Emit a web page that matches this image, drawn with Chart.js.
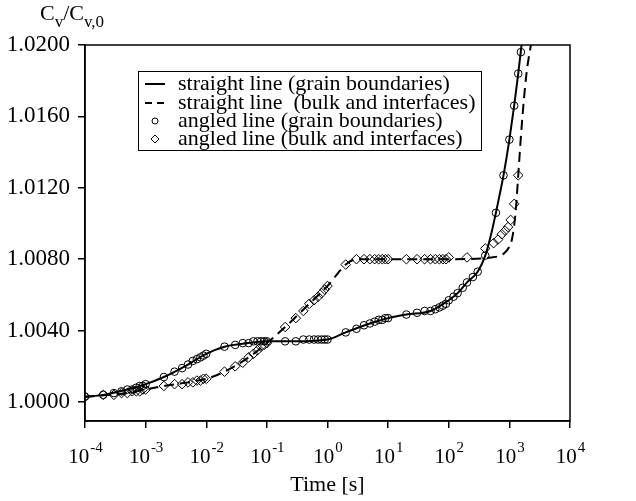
<!DOCTYPE html>
<html>
<head>
<meta charset="utf-8">
<script src="https://cdn.jsdelivr.net/npm/chart.js@4/dist/chart.umd.min.js"></script>
<style>
  html, body { margin: 0; padding: 0; background: #fff; }
  #wrap { width: 636px; height: 501px; }
</style>
</head>
<body>
<div id="wrap"><canvas id="chart" width="636" height="501"></canvas></div>
<script>
// axis ticks
const xTicks = [1e-4, 1e-3, 1e-2, 1e-1, 1, 10, 100, 1000, 10000];
const xTickExp = ['-4', '-3', '-2', '-1', '0', '1', '2', '3', '4'];
const yTicks = [1.0000, 1.0040, 1.0080, 1.0120, 1.0160, 1.0200];

// straight line (grain boundaries) - solid curve
const straightGbTime = [1e-4, 2e-4, 5e-4, 1e-3, 2e-3, 5e-3, 1e-2, 2e-2, 5e-2, 1e-1, 3e-1, 1, 2, 5, 10, 20, 50, 100, 150, 200, 300, 400, 500, 600, 700, 800, 900, 1000, 1200, 1400, 1600];
const straightGbCv = [1.0003, 1.0004, 1.0007, 1.0010, 1.0014, 1.0021, 1.0027, 1.0031, 1.0033, 1.0034, 1.0034, 1.0035, 1.0039, 1.0044, 1.0047, 1.0049, 1.0051, 1.0057, 1.0062, 1.0067, 1.0073, 1.0082, 1.0094, 1.0106, 1.0117, 1.0127, 1.0137, 1.0147, 1.0166, 1.0184, 1.0201];

// straight line (bulk and interfaces) - dashed curve
const straightBulkTime = [1e-4, 5e-4, 1e-3, 2e-3, 5e-3, 1e-2, 2e-2, 5e-2, 1e-1, 2e-1, 5e-1, 1, 2, 3, 5, 100, 500, 800, 1000, 1100, 1200, 1300, 1400, 1600, 1900, 2400];
const straightBulkCv = [1.0003, 1.0005, 1.0007, 1.0009, 1.0011, 1.0013, 1.0017, 1.0025, 1.0033, 1.0042, 1.0055, 1.0065, 1.0077, 1.0080, 1.0080, 1.0080, 1.0081, 1.0083, 1.0087, 1.0091, 1.0099, 1.0111, 1.0127, 1.0155, 1.0183, 1.0205];

// angled line (grain boundaries) - circles
const angledGbTime = [
  1e-4, 2e-4, 3e-4, 4e-4, 5e-4, 6e-4, 7e-4, 8e-4, 9e-4,
  1e-3, 2e-3, 3e-3, 4e-3, 5e-3, 6e-3, 7e-3, 8e-3, 9e-3,
  1e-2, 2e-2, 3e-2, 4e-2, 5e-2, 6e-2, 7e-2, 8e-2, 9e-2,
  0.1, 0.2, 0.3, 0.4, 0.5, 0.6, 0.7, 0.8, 0.9,
  1, 2, 3, 4, 5, 6, 7, 8, 9,
  10, 20, 30, 40, 50, 60, 70, 80, 90,
  100, 120, 140, 170, 200, 250, 300, 400, 600, 800, 1000, 1200, 1400, 1550
];
const angledGbCv = [
  1.0003, 1.0004, 1.0005, 1.0006, 1.0007, 1.0007, 1.0008, 1.0009, 1.0009,
  1.0010, 1.0014, 1.0017, 1.0019, 1.0021, 1.0023, 1.0024, 1.0025, 1.0026,
  1.0027, 1.0031, 1.0032, 1.0033, 1.0033, 1.0034, 1.0034, 1.0034, 1.0034,
  1.0034, 1.0034, 1.0034, 1.0035, 1.0035, 1.0035, 1.0035, 1.0035, 1.0035,
  1.0035, 1.0039, 1.0041, 1.0043, 1.0044, 1.0045, 1.0046, 1.0046, 1.0047,
  1.0047, 1.0049, 1.0050, 1.0051, 1.0051, 1.0052, 1.0053, 1.0054, 1.0055,
  1.0057, 1.0059, 1.0061, 1.0064, 1.0067, 1.0070, 1.0073, 1.0082, 1.0106, 1.0127, 1.0147, 1.0166, 1.0184, 1.0196
];

// angled line (bulk and interfaces) - diamonds
const angledBulkTime = [
  1e-4, 2e-4, 3e-4, 4e-4, 5e-4, 6e-4, 7e-4, 8e-4, 9e-4,
  1e-3, 2e-3, 3e-3, 4e-3, 5e-3, 6e-3, 7e-3, 8e-3, 9e-3,
  1e-2, 2e-2, 3e-2, 4e-2, 5e-2, 6e-2, 7e-2, 8e-2, 9e-2,
  0.1, 0.2, 0.3, 0.4, 0.5, 0.6, 0.7, 0.8, 0.9,
  1, 2, 3, 4, 5, 6, 7, 8, 9,
  10, 20, 30, 40, 50, 60, 70, 80, 90,
  100, 200, 400, 550, 650, 750, 850, 950, 1050, 1200, 1400
];
const angledBulkCv = [
  1.0003, 1.0004, 1.0004, 1.0005, 1.0005, 1.0006, 1.0006, 1.0006, 1.0007,
  1.0007, 1.0009, 1.0010, 1.0010, 1.0011, 1.0011, 1.0012, 1.0012, 1.0013,
  1.0013, 1.0017, 1.0020, 1.0022, 1.0025, 1.0027, 1.0029, 1.0031, 1.0032,
  1.0033, 1.0042, 1.0047, 1.0051, 1.0055, 1.0057, 1.0059, 1.0061, 1.0063,
  1.0065, 1.0077, 1.0080, 1.0080, 1.0080, 1.0080, 1.0080, 1.0080, 1.0080,
  1.0080, 1.0080, 1.0080, 1.0080, 1.0080, 1.0080, 1.0080, 1.0080, 1.0080,
  1.0081, 1.0081, 1.0086, 1.0089, 1.0091, 1.0094, 1.0096, 1.0098, 1.0102, 1.0111, 1.0127
];

const legendLabels = [
  'straight line (grain boundaries)',
  'straight line  (bulk and interfaces)',
  'angled line (grain boundaries)',
  'angled line (bulk and interfaces)'
];

const FONT = '"Liberation Serif", "Times New Roman", serif';

function pts(xs, ys) {
  return xs.map((x, i) => ({ x: x, y: ys[i] }));
}

// frame, power-of-ten tick labels, titles and the boxed legend
const decorations = {
  id: 'decorations',
  afterDraw(chart) {
    const ctx = chart.ctx;
    const a = chart.chartArea;
    const xs = chart.scales.x;
    ctx.save();
    ctx.strokeStyle = '#000';
    ctx.lineWidth = 1.5;
    ctx.strokeRect(a.left, a.top, a.right - a.left, a.bottom - a.top);

    ctx.fillStyle = '#000';
    ctx.textBaseline = 'alphabetic';
    ctx.textAlign = 'left';
    xTicks.forEach((v, i) => {
      const px = xs.getPixelForValue(v);
      ctx.font = '21px ' + FONT;
      const wb = ctx.measureText('10').width;
      ctx.font = '15px ' + FONT;
      const we = ctx.measureText(xTickExp[i]).width;
      const x0 = px - (wb + we) / 2;
      ctx.font = '21px ' + FONT;
      ctx.fillText('10', x0, 463);
      ctx.font = '15px ' + FONT;
      ctx.fillText(xTickExp[i], x0 + wb + 1, 452);
    });

    // x axis title
    ctx.font = '22px ' + FONT;
    ctx.textAlign = 'center';
    ctx.fillText('Time [s]', (a.left + a.right) / 2, 491);

    // y axis title C_v/C_v,0
    ctx.textAlign = 'left';
    let tx = 40;
    const parts = [['C', 22, 20], ['v', 17, 27], ['/C', 22, 20], ['v,0', 17, 27]];
    parts.forEach(p => {
      ctx.font = p[1] + 'px ' + FONT;
      ctx.fillText(p[0], tx, p[2]);
      tx += ctx.measureText(p[0]).width;
    });

    // legend
    const lx = 138, ly = 71, lw = 343, lh = 79;
    ctx.lineWidth = 1;
    ctx.strokeRect(lx + 0.5, ly + 0.5, lw, lh);
    const rows = [84, 103, 121, 139];
    ctx.font = '22px ' + FONT;
    legendLabels.forEach((t, i) => {
      const cy = rows[i];
      ctx.strokeStyle = '#000';
      if (i === 0) {
        ctx.lineWidth = 2;
        ctx.beginPath(); ctx.moveTo(145, cy); ctx.lineTo(165, cy); ctx.stroke();
      } else if (i === 1) {
        ctx.lineWidth = 2;
        ctx.beginPath(); ctx.moveTo(145, cy); ctx.lineTo(152, cy);
        ctx.moveTo(157, cy); ctx.lineTo(164, cy); ctx.stroke();
      } else if (i === 2) {
        ctx.lineWidth = 1;
        ctx.beginPath(); ctx.arc(155, cy, 3, 0, Math.PI * 2); ctx.stroke();
      } else {
        ctx.lineWidth = 1;
        ctx.beginPath(); ctx.moveTo(155, cy - 4); ctx.lineTo(159, cy);
        ctx.lineTo(155, cy + 4); ctx.lineTo(151, cy); ctx.closePath(); ctx.stroke();
      }
      ctx.fillText(t, 178, cy + 6);
    });
    ctx.restore();
  }
};

const ctx = document.getElementById('chart').getContext('2d');
new Chart(ctx, {
  type: 'line',
  data: {
    datasets: [
      {
        label: legendLabels[0],
        data: pts(straightGbTime, straightGbCv),
        borderColor: '#000',
        borderWidth: 2,
        pointRadius: 0,
        cubicInterpolationMode: 'monotone',
        fill: false
      },
      {
        label: legendLabels[1],
        data: pts(straightBulkTime, straightBulkCv),
        borderColor: '#000',
        borderWidth: 2,
        borderDash: [10, 6],
        pointRadius: 0,
        cubicInterpolationMode: 'monotone',
        fill: false
      },
      {
        label: legendLabels[2],
        data: pts(angledGbTime, angledGbCv),
        showLine: false,
        pointStyle: 'circle',
        pointRadius: 3.8,
        pointBorderWidth: 1,
        pointBorderColor: '#000',
        pointBackgroundColor: 'rgba(0,0,0,0)'
      },
      {
        label: legendLabels[3],
        data: pts(angledBulkTime, angledBulkCv),
        showLine: false,
        pointStyle: 'rectRot',
        pointRadius: 4.8,
        pointBorderWidth: 1,
        pointBorderColor: '#000',
        pointBackgroundColor: 'rgba(0,0,0,0)'
      }
    ]
  },
  options: {
    responsive: false,
    animation: false,
    events: [],
    layout: { padding: { top: 45, right: 66, left: 0, bottom: 0 } },
    plugins: {
      legend: { display: false },
      tooltip: { enabled: false }
    },
    scales: {
      x: {
        type: 'logarithmic',
        min: 1e-4,
        max: 1e4,
        afterBuildTicks: s => { s.ticks = xTicks.map(v => ({ value: v })); },
        afterFit: s => { s.height = 80; },
        ticks: { display: false },
        grid: { drawOnChartArea: false, drawTicks: true, tickLength: 7, color: '#000', lineWidth: 1.5 },
        border: { display: true, color: '#000', width: 1.5 }
      },
      y: {
        type: 'linear',
        min: 0.998936,
        max: 1.0200,
        afterBuildTicks: s => { s.ticks = yTicks.map(v => ({ value: v })); },
        afterFit: s => { s.width = 85; },
        ticks: {
          color: '#000',
          padding: 8,
          font: { family: FONT, size: 23 },
          callback: v => Number(v).toFixed(4)
        },
        grid: { drawOnChartArea: false, drawTicks: true, tickLength: 7, color: '#000', lineWidth: 1.5 },
        border: { display: true, color: '#000', width: 1.5 }
      }
    }
  },
  plugins: [decorations]
});
</script>
</body>
</html>
